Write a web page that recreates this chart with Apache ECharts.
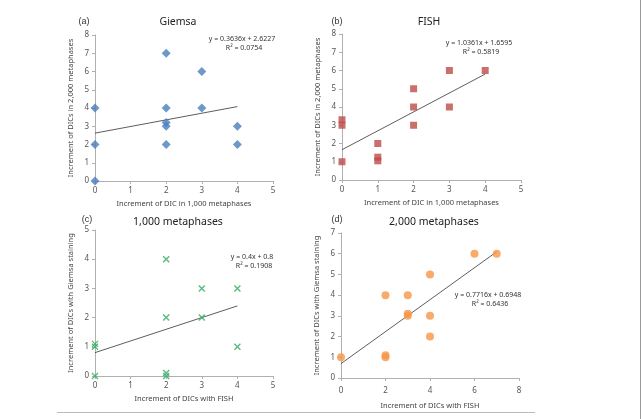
<!DOCTYPE html>
<html>
<head>
<meta charset="utf-8">
<script src="https://cdn.jsdelivr.net/npm/echarts@6/dist/echarts.min.js"></script>
<style>
  html, body { margin: 0; padding: 0; background: #fff; }
  #chart { width: 642px; height: 419px; }
</style>
</head>
<body>
<div id="chart"></div>
<script>
// 数据
const giemsaX = [0, 0, 0, 2, 2, 2, 2, 2, 3, 3, 4, 4]
const giemsaY = [4, 2, 0, 7, 4, 3.2, 3, 2, 6, 4, 3, 2]
const fishX = [0, 0, 0, 1, 1, 1, 2, 2, 2, 3, 3, 4]
const fishY = [3.3, 3, 1, 2, 1.25, 1.05, 5, 4, 3, 6, 4, 6]
const m1000X = [0, 0, 0, 2, 2, 2, 2, 3, 3, 4, 4]
const m1000Y = [1.1, 1, 0, 4, 2, 0.1, 0, 3, 2, 3, 1]
const m2000X = [0, 2, 2, 2, 3, 3, 3, 4, 4, 4, 6, 7]
const m2000Y = [1, 4, 1.1, 1, 4, 3.1, 3, 5, 3, 2, 6, 6]

// 趋势线 [斜率, 截距, x起, x止]
const fitA = [0.3636, 2.6227, 0, 4]
const fitB = [1.0361, 1.6595, 0, 4]
const fitC = [0.4, 0.8, 0, 4]
const fitD = [0.7716, 0.6948, 0, 7]

const eqA = ['y = 0.3636x + 2.6227', 'R² = 0.0754']
const eqB = ['y = 1.0361x + 1.6595', 'R² = 0.5819']
const eqC = ['y = 0.4x + 0.8', 'R² = 0.1908']
const eqD = ['y = 0.7716x + 0.6948', 'R² = 0.6436']

const panelTitles = ['Giemsa', 'FISH', '1,000 metaphases', '2,000 metaphases']
const panelTags = ['(a)', '(b)', '(c)', '(d)']
const xNames = ['Increment of DIC in 1,000 metaphases', 'Increment of DIC in 1,000 metaphases',
  'Increment of DICs with FISH', 'Increment of DICs with FISH']
const yNames = ['Increment of DICs in 2,000 metaphases', 'Increment of DICs in 2,000 metaphases',
  'Increment of DICs with Giemsa staining', 'Increment of DICs with Giemsa staining']

const FONT = 'Noto Sans, DejaVu Sans, sans-serif'
const grids = [
  {left: 95, top: 35, width: 178, height: 146},
  {left: 342, top: 34, width: 179, height: 146},
  {left: 95, top: 230, width: 178, height: 146},
  {left: 341, top: 233, width: 178, height: 145}
]
const xMax = [5, 5, 5, 8]
const xInt = [1, 1, 1, 2]
const yMax = [8, 8, 5, 7]

const zip = (xs, ys) => xs.map((x, i) => [x, ys[i]])
const fitLine = f => [[f[2], f[0] * f[2] + f[1]], [f[3], f[0] * f[3] + f[1]]]

const axisCommon = {
  axisLine: {show: true, lineStyle: {color: '#b0b0b0', width: 1}},
  axisTick: {show: true, length: 3, lineStyle: {color: '#b0b0b0'}},
  splitLine: {show: false},
  axisLabel: {color: '#555', fontSize: 8, fontFamily: FONT},
  nameLocation: 'middle',
  nameTextStyle: {color: '#444', fontSize: 7.5, fontFamily: FONT}
}

const xAxis = grids.map((g, i) => Object.assign({}, axisCommon, {
  type: 'value', gridIndex: i, min: 0, max: xMax[i], interval: xInt[i],
  name: xNames[i], nameGap: i === 3 ? 24 : 19,
  axisLabel: Object.assign({}, axisCommon.axisLabel, {margin: i === 3 ? 9 : 6})
}))
const yAxis = grids.map((g, i) => Object.assign({}, axisCommon, {
  type: 'value', gridIndex: i, min: 0, max: yMax[i], interval: 1,
  name: yNames[i], nameGap: 20,
  axisLabel: Object.assign({}, axisCommon.axisLabel, {margin: 6})
}))

const trend = (f, i) => ({
  type: 'line', xAxisIndex: i, yAxisIndex: i, data: fitLine(f),
  symbol: 'none', lineStyle: {color: '#333', width: 0.8}, z: 1, silent: true
})

const series = [
  {type: 'scatter', xAxisIndex: 0, yAxisIndex: 0, data: zip(giemsaX, giemsaY),
    symbol: 'diamond', symbolSize: 9, itemStyle: {color: '#4a7ebb'}},
  {type: 'scatter', xAxisIndex: 1, yAxisIndex: 1, data: zip(fishX, fishY),
    symbol: 'rect', symbolSize: 7, itemStyle: {color: '#be4b48'}},
  {type: 'scatter', xAxisIndex: 2, yAxisIndex: 2, data: zip(m1000X, m1000Y),
    symbol: 'path://M0,0L10,10M0,10L10,0', symbolSize: 6,
    itemStyle: {color: 'none', borderColor: '#2eaa5e', borderWidth: 1.4}},
  {type: 'scatter', xAxisIndex: 3, yAxisIndex: 3, data: zip(m2000X, m2000Y),
    symbol: 'circle', symbolSize: 8, itemStyle: {color: '#f79646'}},
  trend(fitA, 0), trend(fitB, 1), trend(fitC, 2), trend(fitD, 3)
]

const tagPos = [[84, 22], [337, 22], [87, 220], [337, 220]]
const titlePos = [[178, 22], [429, 22], [178, 222], [434, 222]]
const eqPos = [[242, 39], [479, 43], [252, 257], [488, 295]]

const graphic = []
panelTags.forEach((t, i) => {
  graphic.push({type: 'text', x: tagPos[i][0], y: tagPos[i][1],
    style: {text: t, fontSize: 9, fill: '#333', font: '9px ' + FONT, textAlign: 'center', textVerticalAlign: 'middle'}})
  graphic.push({type: 'text', x: titlePos[i][0], y: titlePos[i][1],
    style: {text: panelTitles[i], fill: '#222', font: '10.5px ' + FONT, textAlign: 'center', textVerticalAlign: 'middle'}})
})
;[eqA, eqB, eqC, eqD].forEach((eq, i) => {
  graphic.push({type: 'text', x: eqPos[i][0], y: eqPos[i][1],
    style: {text: eq[0], fill: '#333', font: '7px ' + FONT, textAlign: 'center', textVerticalAlign: 'middle'}})
  graphic.push({type: 'text', x: eqPos[i][0] + 2, y: eqPos[i][1] + 9,
    style: {text: eq[1], fill: '#333', font: '7px ' + FONT, textAlign: 'center', textVerticalAlign: 'middle'}})
})
// 边框线
graphic.push({type: 'line', shape: {x1: 57, y1: 412.5, x2: 535, y2: 412.5}, style: {stroke: '#bbb', lineWidth: 1}})
graphic.push({type: 'line', shape: {x1: 640.5, y1: 0, x2: 640.5, y2: 419}, style: {stroke: '#999', lineWidth: 1}})

const myChart = echarts.init(document.getElementById('chart'))
myChart.setOption({
  backgroundColor: '#fff',
  animation: false,
  grid: grids,
  xAxis: xAxis,
  yAxis: yAxis,
  series: series,
  graphic: graphic
})
</script>
</body>
</html>
